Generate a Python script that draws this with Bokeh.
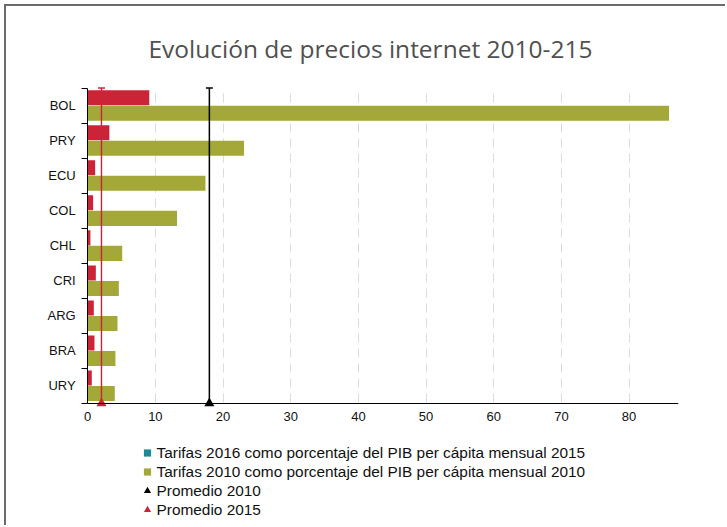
import numpy as np
from bokeh.plotting import figure
from bokeh.models import (Range1d, FixedTicker, Legend, LegendItem, BoxAnnotation)
from bokeh.embed import file_html
from bokeh.resources import INLINE

# ---------------- data ----------------
countries = ["BOL", "PRY", "ECU", "COL", "CHL", "CRI", "ARG", "BRA", "URY"]
tarifas_2015 = [9.1, 3.2, 1.1, 0.8, 0.4, 1.2, 0.9, 1.0, 0.6]
tarifas_2010 = [85.9, 23.1, 17.4, 13.2, 5.1, 4.6, 4.4, 4.1, 4.0]
x_ticks = [0, 10, 20, 30, 40, 50, 60, 70, 80]
title_text = "Evolución de precios internet 2010-215"
legend_labels = [
    "Tarifas 2016 como porcentaje del PIB per cápita mensual 2015",
    "Tarifas 2010 como porcentaje del PIB per cápita mensual 2010",
    "Promedio 2010",
    "Promedio 2015",
]

RED = "#cc2437"
OLIVE = "#a3a839"
TEAL = "#1b8a99"
BLACK = "#000000"

n = len(countries)
centers = np.arange(n)[::-1] + 0.5          # first country on top
prom_2010 = float(np.mean(tarifas_2010))
prom_2015 = float(np.mean(tarifas_2015))
X_MAX = 87.3

p = figure(frame_width=672, frame_height=438,
           min_border_left=0, min_border_right=47,
           min_border_top=78, min_border_bottom=3,
           x_range=Range1d(-12, X_MAX), y_range=Range1d(-3.4, 9.1),
           output_backend="svg", toolbar_location=None)
p.outline_line_color = None
p.styles = {"margin-left": "4px", "margin-top": "4px",
            "border-top": "2px solid #6b6b6b", "border-left": "2px solid #6b6b6b"}

# title
p.title.text = title_text
p.title.align = "left"
p.title.offset = 142
p.title.standoff = 40
p.title.text_font = "Open Sans"
p.title.text_font_size = "24.5px"
p.title.text_font_style = "normal"
p.title.text_color = "#505050"

# grid
p.ygrid.visible = False
p.xgrid.ticker = FixedTicker(ticks=x_ticks[1:])
p.xgrid.grid_line_color = "#dcdcdc"
p.xgrid.grid_line_dash = "9 6"
p.add_layout(BoxAnnotation(top=0, fill_color="white", fill_alpha=1,
                           line_color=None, level="underlay"))
p.add_layout(BoxAnnotation(bottom=n, fill_color="white", fill_alpha=1,
                           line_color=None, level="underlay"))

# x axis placed at y = 0
xa = p.xaxis[0]
xa.fixed_location = 0
xa.bounds = (0, X_MAX)
xa.ticker = FixedTicker(ticks=x_ticks)
xa.major_tick_out = 0
xa.major_tick_in = 0
xa.minor_tick_line_color = None
xa.axis_line_color = BLACK
xa.major_label_standoff = 9
xa.major_label_text_font = "Liberation Sans"
xa.major_label_text_font_size = "13px"
xa.major_label_text_color = "#111111"

# y axis placed at x = 0
ya = p.yaxis[0]
ya.fixed_location = 0
ya.ticker = FixedTicker(ticks=list(centers), minor_ticks=list(range(n + 1)))
ya.major_label_overrides = {float(c): lab for c, lab in zip(centers, countries)}
ya.bounds = (0, n)
ya.major_tick_out = 0
ya.major_tick_in = 0
ya.minor_tick_out = 6
ya.minor_tick_in = 0
ya.minor_tick_line_color = BLACK
ya.axis_line_color = BLACK
ya.major_label_standoff = 6
ya.major_label_text_font = "Liberation Sans"
ya.major_label_text_font_size = "13px"
ya.major_label_text_color = "#111111"

# bars
p.hbar(y=centers + 0.223, right=tarifas_2015, left=0, height=0.43,
       fill_color=RED, line_color=None)
p.hbar(y=centers - 0.22, right=tarifas_2010, left=0, height=0.43,
       fill_color=OLIVE, line_color=None)

# average lines
p.segment(x0=[prom_2010], y0=[0], x1=[prom_2010], y1=[n], line_color=BLACK, line_width=1.5)
p.scatter(x=[prom_2010], y=[n], marker="dash", size=7, line_color=BLACK, line_width=1.5)
p.scatter(x=[prom_2010], y=[0], marker="triangle", size=10, fill_color=BLACK, line_color=None)
p.segment(x0=[prom_2015], y0=[0], x1=[prom_2015], y1=[n], line_color=RED, line_width=1.4)
p.scatter(x=[prom_2015], y=[n], marker="dash", size=7, line_color=RED, line_width=1.4)
p.scatter(x=[prom_2015], y=[0], marker="triangle", size=10, fill_color=RED, line_color=None)

# legend proxies (hidden renderers, shown only as legend glyphs)
lg1 = p.scatter(x=[prom_2015], y=[0], marker="square", size=6, fill_color=TEAL,
                line_color=None, visible=False)
lg2 = p.scatter(x=[prom_2010], y=[0], marker="square", size=6, fill_color=OLIVE,
                line_color=None, visible=False)
lg3 = p.scatter(x=[prom_2010], y=[0], marker="triangle", size=8, fill_color=BLACK,
                line_color=None, visible=False)
lg4 = p.scatter(x=[prom_2015], y=[0], marker="triangle", size=8, fill_color=RED,
                line_color=None, visible=False)
legend = Legend(items=[LegendItem(label=l, renderers=[r]) for l, r in
                       zip(legend_labels, [lg1, lg2, lg3, lg4])],
                location=(131.5, 3))
legend.border_line_color = None
legend.background_fill_alpha = 0
legend.inactive_fill_alpha = 0
legend.padding = 0
legend.margin = 0
legend.spacing = 0
legend.glyph_width = 18
legend.glyph_height = 19
legend.label_height = 19
legend.label_standoff = 1
legend.label_text_font = "Liberation Sans"
legend.label_text_font_size = "15.4px"
legend.label_text_color = "#111111"
p.add_layout(legend)

open("out.html", "w").write(file_html(p, INLINE))
